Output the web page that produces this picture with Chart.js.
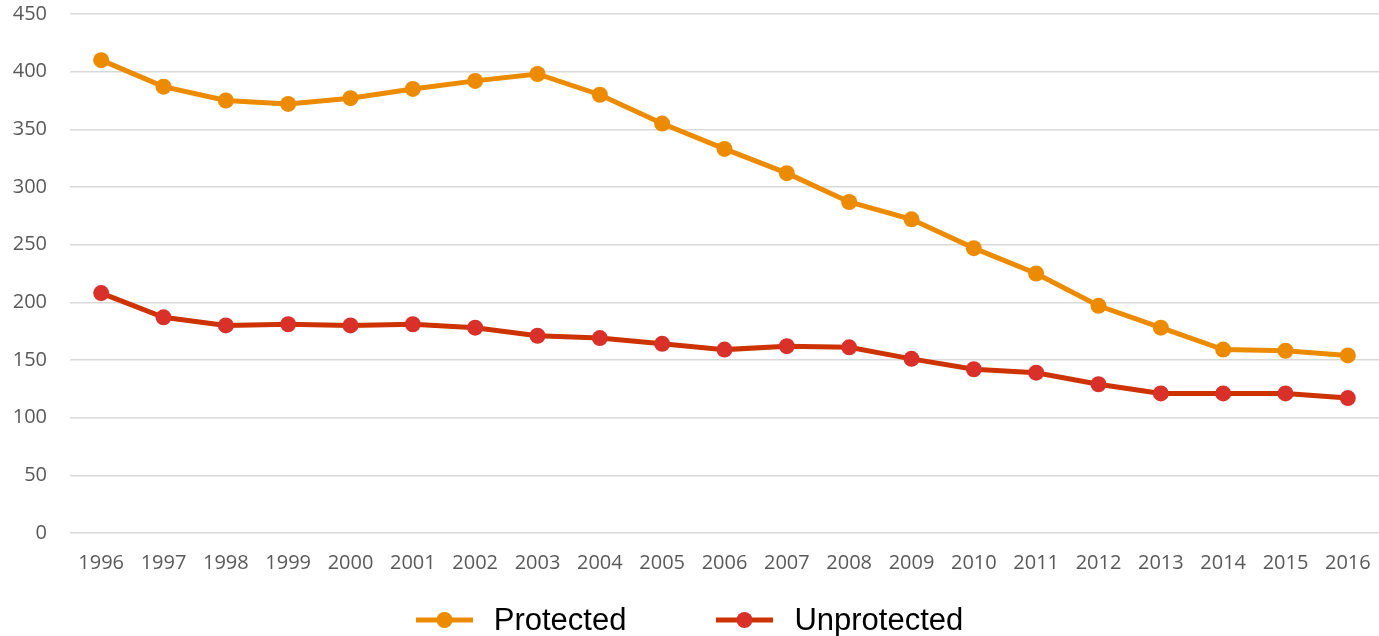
<!DOCTYPE html>
<html>
<head>
<meta charset="utf-8">
<script src="https://cdn.jsdelivr.net/npm/chart.js@4.4.1/dist/chart.umd.min.js"></script>
<style>
  html, body { margin: 0; padding: 0; background: #fff; }
  #wrap { position: relative; width: 1379px; height: 636px; overflow: hidden; }
  #chart { position: absolute; left: 0; top: 0; }
  #legend {
    position: absolute; left: 0; top: 602px; width: 1379px; height: 36px;
    display: flex; justify-content: center; align-items: center; gap: 90px;
    font-family: "Liberation Sans", Arial, sans-serif; font-size: 31px; color: #000;
  }
  .item { display: flex; align-items: center; }
  .item svg { margin-right: 21px; }
</style>
</head>
<body>
<div id="wrap">
  <canvas id="chart" width="1379" height="636"></canvas>
  <div id="legend"></div>
</div>
<script>
// Data
const years = ['1996','1997','1998','1999','2000','2001','2002','2003','2004','2005','2006',
               '2007','2008','2009','2010','2011','2012','2013','2014','2015','2016'];
const protectedValues = [410, 387, 375, 372, 377, 385, 392, 398, 380, 355, 333,
                         312, 287, 272, 247, 225, 197, 178, 159, 158, 154];
const unprotectedValues = [208, 187, 180, 181, 180, 181, 178, 171, 169, 164, 159,
                           162, 161, 151, 142, 139, 129, 121, 121, 121, 117];
const yTicks = [0, 50, 100, 150, 200, 250, 300, 350, 400, 450];

const seriesNames = ['Protected', 'Unprotected'];
const lineColors = ['#ed8b00', '#cc3300'];
const pointColors = ['#ed8b00', '#d9302a'];

const tickFont = { family: 'Open Sans', size: 20 };

const ctx = document.getElementById('chart').getContext('2d');
new Chart(ctx, {
    type: 'line',
    data: {
        labels: years,
        datasets: [protectedValues, unprotectedValues].map((vals, i) => ({
            label: seriesNames[i],
            data: vals,
            borderColor: lineColors[i],
            backgroundColor: pointColors[i],
            pointBackgroundColor: pointColors[i],
            pointBorderColor: pointColors[i],
            borderWidth: 5,
            pointRadius: 8,
            pointBorderWidth: 0,
            tension: 0,
            fill: false,
            clip: false
        }))
    },
    options: {
        responsive: false,
        animation: false,
        layout: { autoPadding: false, padding: { left: 0, top: 14, right: 0, bottom: 61 } },
        plugins: { legend: { display: false }, tooltip: { enabled: false } },
        scales: {
            x: {
                offset: true,
                afterFit: axis => { axis.paddingLeft = 0; axis.paddingRight = 0; },
                grid: { display: true, drawOnChartArea: false, drawTicks: true, tickLength: 18, color: 'rgba(0,0,0,0)' },
                border: { display: false },
                ticks: {
                    padding: 0,
                    maxRotation: 0,
                    autoSkip: false,
                    color: '#595959',
                    font: tickFont
                }
            },
            y: {
                min: 0,
                max: 450,
                afterBuildTicks: axis => { axis.ticks = yTicks.map(v => ({ value: v })); },
                afterFit: axis => { axis.width = 70; axis.paddingTop = 0; axis.paddingBottom = 0; },
                grid: { color: '#d9d9d9', lineWidth: 1.5, drawTicks: false },
                border: { display: false },
                ticks: {
                    padding: 23,
                    color: '#595959',
                    font: tickFont
                }
            }
        }
    }
});

// Legend
const legend = document.getElementById('legend');
seriesNames.forEach((name, i) => {
    const item = document.createElement('div');
    item.className = 'item';
    item.innerHTML =
        `<svg width="57" height="20"><line x1="0" y1="10" x2="57" y2="10" stroke="${lineColors[i]}" stroke-width="5" stroke-linecap="round"/>` +
        `<circle cx="28.5" cy="10" r="8" fill="${pointColors[i]}"/></svg><span>${name}</span>`;
    legend.appendChild(item);
});
</script>
</body>
</html>
